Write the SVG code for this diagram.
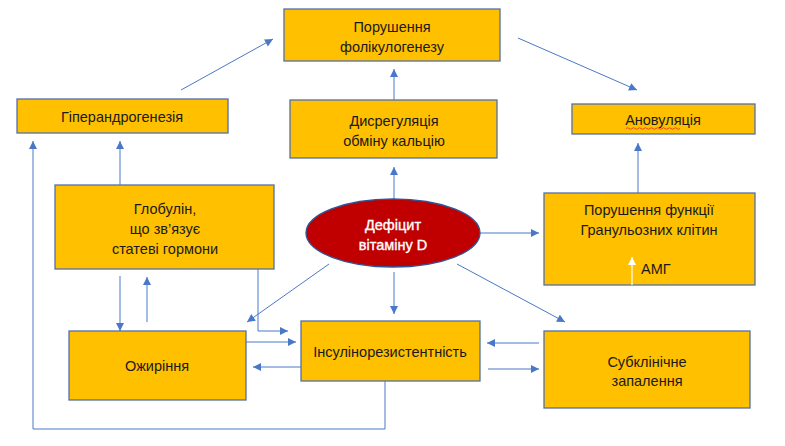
<svg xmlns="http://www.w3.org/2000/svg" width="785" height="446" viewBox="0 0 785 446">
<style>
.box{fill:#FFC000;stroke:#5470A8;stroke-width:1.3}
.t{font-family:"Liberation Sans",Arial,sans-serif;font-size:14.5px;fill:#1a1a1a;text-anchor:middle}
.w{font-family:"Liberation Sans",Arial,sans-serif;font-size:14.5px;fill:#ffffff;stroke:#ffffff;stroke-width:0.35;text-anchor:middle}
.c{fill:none;stroke:#4A78C8;stroke-width:1}
</style>
<defs>
<marker id="ah" viewBox="0 0 10 10" refX="10" refY="5" markerWidth="9" markerHeight="8" markerUnits="userSpaceOnUse" orient="auto-start-reverse">
<path d="M0,0 L10,5 L0,10 z" fill="#4A78C8"/>
</marker>
<marker id="ahw" viewBox="0 0 10 10" refX="10" refY="5" markerWidth="9" markerHeight="8" markerUnits="userSpaceOnUse" orient="auto">
<path d="M0,0 L10,5 L0,10 z" fill="#ffffff"/>
</marker>
</defs>
<rect width="785" height="446" fill="#ffffff"/>
<g id="connectors">
<line class="c" x1="181" y1="90" x2="273" y2="39" marker-end="url(#ah)"/>
<line class="c" x1="518" y1="38" x2="637" y2="90" marker-end="url(#ah)"/>
<line class="c" x1="394" y1="100" x2="394" y2="69" marker-end="url(#ah)"/>
<line class="c" x1="394" y1="199" x2="394" y2="167" marker-end="url(#ah)"/>
<line class="c" x1="120" y1="185" x2="120" y2="141" marker-end="url(#ah)"/>
<path class="c" d="M385,381 V429 H33 V141" marker-end="url(#ah)"/>
<line class="c" x1="120" y1="276" x2="120" y2="331" marker-end="url(#ah)"/>
<line class="c" x1="147" y1="322" x2="147" y2="277" marker-end="url(#ah)"/>
<path class="c" d="M230,264 H258 V331 H288" marker-start="url(#ah)" marker-end="url(#ah)"/>
<line class="c" x1="329" y1="264" x2="247" y2="322" marker-end="url(#ah)"/>
<line class="c" x1="246" y1="342" x2="296" y2="342" marker-end="url(#ah)"/>
<line class="c" x1="301" y1="367" x2="253" y2="367" marker-end="url(#ah)"/>
<line class="c" x1="394" y1="272" x2="394" y2="314" marker-end="url(#ah)"/>
<line class="c" x1="480" y1="233" x2="539" y2="233" marker-end="url(#ah)"/>
<line class="c" x1="457" y1="264" x2="565" y2="322" marker-end="url(#ah)"/>
<line class="c" x1="539" y1="343" x2="487" y2="343" marker-end="url(#ah)"/>
<line class="c" x1="488" y1="369" x2="539" y2="369" marker-end="url(#ah)"/>
<line class="c" x1="638" y1="193" x2="638" y2="143" marker-end="url(#ah)"/>
</g>
<g id="folikulogenez">
<rect class="box" x="284" y="9" width="216" height="52"/>
<text class="t" x="392" y="32">Порушення</text>
<text class="t" x="392" y="52">фолікулогенезу</text>
</g>
<g id="hiperandrogeneziya">
<rect class="box" x="17" y="99" width="211" height="34"/>
<text class="t" x="122" y="122">Гіперандрогенезія</text>
</g>
<g id="dysrehulyatsiya">
<rect class="box" x="290" y="100" width="207" height="58"/>
<text class="t" x="394" y="126">Дисрегуляція</text>
<text class="t" x="394" y="146">обміну кальцію</text>
</g>
<g id="anovulyatsiya">
<rect class="box" x="572" y="104" width="183" height="30"/>
<text class="t" x="663" y="125">Ановуляція</text>
<path d="M626,128.5 q1.5,-1.5 3,0 t3,0 t3,0 t3,0 t3,0 t3,0 t3,0 t3,0 t3,0 t3,0 t3,0 t3,0 t3,0 t3,0 t3,0 t3,0 t3,0 t3,0" fill="none" stroke="#E03030" stroke-width="0.8"/>
</g>
<g id="hlobulin">
<rect class="box" x="55" y="185" width="219" height="84"/>
<text class="t" x="165" y="214">Глобулін,</text>
<text class="t" x="165" y="234">що зв’язує</text>
<text class="t" x="165" y="254">статеві гормони</text>
</g>
<g id="defitsyt">
<ellipse cx="393" cy="233" rx="87" ry="34" fill="#C00000" stroke="#2F5597" stroke-width="1.3"/>
<text class="w" x="393" y="230">Дефіцит</text>
<text class="w" x="393" y="250">вітаміну D</text>
</g>
<g id="hranulozni">
<rect class="box" x="544" y="193" width="211" height="92"/>
<text class="t" x="649" y="215">Порушення функції</text>
<text class="t" x="649" y="235">Гранульозних клітин</text>
<line x1="632" y1="285" x2="632" y2="257" stroke="#ffffff" stroke-width="1.2" marker-end="url(#ahw)"/>
<text class="t" x="641" y="274" style="text-anchor:start">АМГ</text>
</g>
<g id="ozhyrinnya">
<rect class="box" x="69" y="331" width="177" height="69"/>
<text class="t" x="157" y="371">Ожиріння</text>
</g>
<g id="insulinorezystentnist">
<rect class="box" x="301" y="321" width="179" height="60"/>
<text class="t" x="390" y="357">Інсулінорезистентність</text>
</g>
<g id="subklinichne">
<rect class="box" x="544" y="331" width="206" height="77"/>
<text class="t" x="647" y="367">Субклінічне</text>
<text class="t" x="647" y="386">запалення</text>
</g>
</svg>
